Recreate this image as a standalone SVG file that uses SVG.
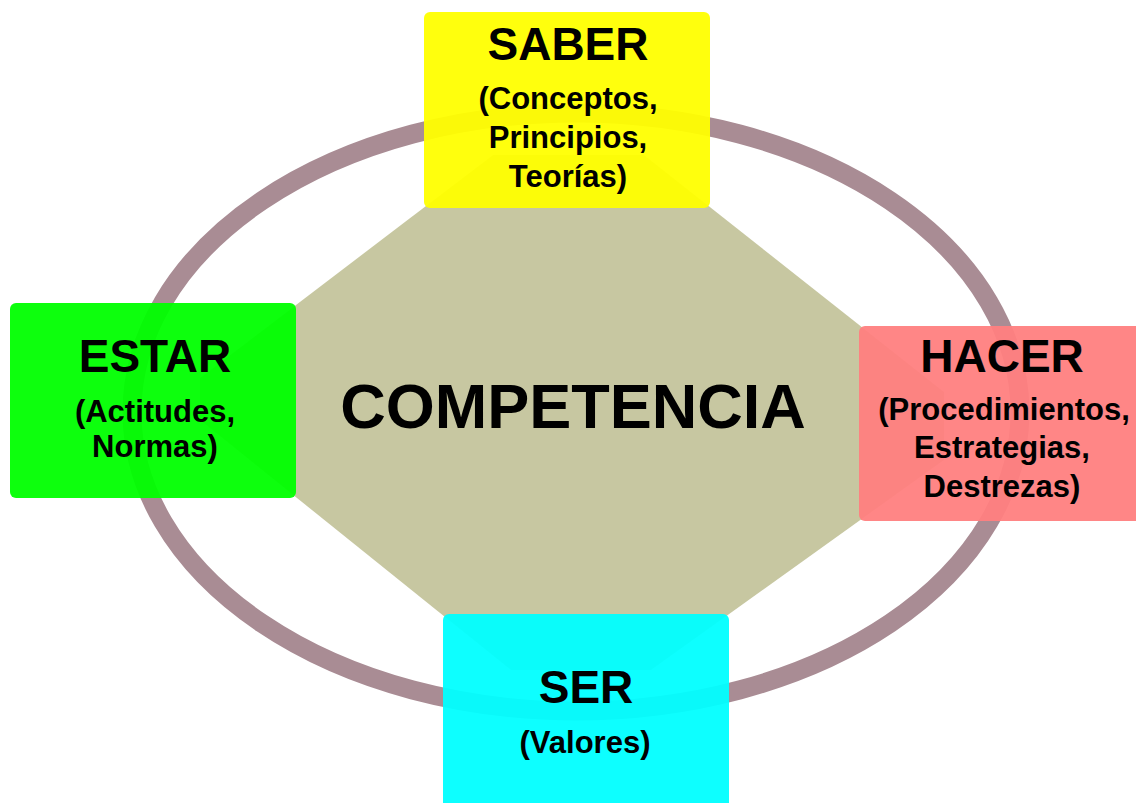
<svg xmlns="http://www.w3.org/2000/svg" width="1136" height="803" viewBox="0 0 1136 803">
  <style>
    .t { font-family: "Liberation Sans", Arial, sans-serif; font-weight: bold; fill: #000; text-anchor: middle; }
    .h { font-size: 46px; }
    .s { font-size: 31px; }
    .box { fill-opacity: 0.95; }
  </style>
  <rect width="1136" height="803" fill="#ffffff"/>
  <g id="ring">
    <ellipse cx="576" cy="412" rx="444" ry="299" fill="none" stroke="#A98C94" stroke-width="19"/>
  </g>
  <g id="competencia">
    <polygon points="493,155 644,155 944,392 944,460 651,670 511,670 200,420 200,378" fill="#C7C7A1"/>
    <text class="t" x="573" y="428" font-size="63">COMPETENCIA</text>
  </g>
  <g id="saber">
    <rect class="box" x="424" y="12" width="286" height="196" rx="6" fill="#FFFF00"/>
    <text class="t h" x="568" y="60">SABER</text>
    <text class="t s" x="568" y="109">(Conceptos,</text>
    <text class="t s" x="568" y="148">Principios,</text>
    <text class="t s" x="568" y="187">Teorías)</text>
  </g>
  <g id="estar">
    <rect class="box" x="10" y="303" width="286" height="195" rx="6" fill="#00FF00"/>
    <text class="t h" x="155" y="372">ESTAR</text>
    <text class="t s" x="155" y="422">(Actitudes,</text>
    <text class="t s" x="155" y="457">Normas)</text>
  </g>
  <g id="hacer">
    <rect class="box" x="859" y="326" width="290" height="195" rx="6" fill="#FF8080"/>
    <text class="t h" x="1002" y="372">HACER</text>
    <text class="t s" x="1004" y="420">(Procedimientos,</text>
    <text class="t s" x="1002" y="458">Estrategias,</text>
    <text class="t s" x="1002" y="497">Destrezas)</text>
  </g>
  <g id="ser">
    <rect class="box" x="443" y="614" width="286" height="200" rx="6" fill="#00FFFF"/>
    <text class="t h" x="586" y="703">SER</text>
    <text class="t s" x="585" y="753">(Valores)</text>
  </g>
</svg>
